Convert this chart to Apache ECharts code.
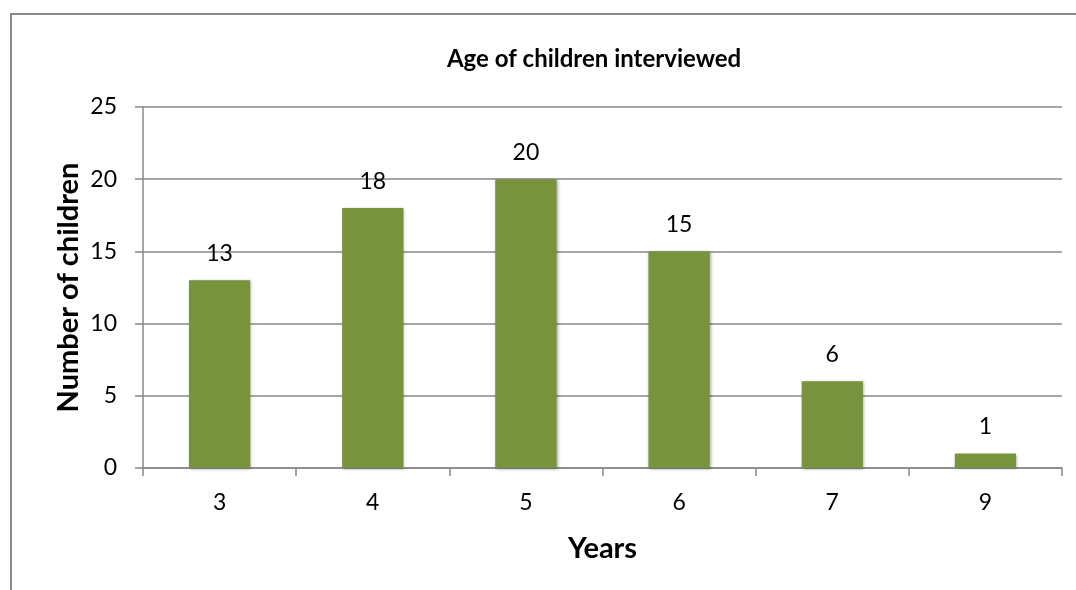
<!DOCTYPE html>
<html>
<head>
<meta charset="utf-8">
<script src="https://cdn.jsdelivr.net/npm/echarts@6/dist/echarts.min.js"></script>
<style>
    html, body { margin: 0; padding: 0; background: #fff; }
    #container { width: 1076px; height: 590px; }
</style>
</head>
<body>
<div id="container"></div>
<script type="text/javascript">
    // chart data
    var years = ['3', '4', '5', '6', '7', '9'];
    var children = [13, 18, 20, 15, 6, 1];
    var yTicks = [0, 5, 10, 15, 20, 25];

    var barColor = '#77933c';
    var lineColor = '#888888';
    var font = 'Lato';

    var dom = document.getElementById('container');
    var myChart = echarts.init(dom);

    var option = {
        backgroundColor: '#fff',
        animation: false,
        title: {
            text: 'Age of children interviewed',
            left: 589,
            textAlign: 'center',
            top: 42,
            textStyle: {
                fontFamily: font,
                fontWeight: 'bold',
                fontSize: 24,
                color: '#000'
            }
        },
        graphic: [{
            type: 'rect',
            shape: { x: 11, y: 14, width: 1200, height: 1000 },
            style: { fill: 'none', stroke: lineColor, lineWidth: 2 },
            silent: true
        }],
        grid: {
            left: 143,
            right: 14,
            top: 107,
            bottom: 122
        },
        xAxis: {
            type: 'category',
            data: years,
            name: 'Years',
            nameLocation: 'middle',
            nameGap: 66,
            nameTextStyle: {
                fontFamily: font,
                fontWeight: 'bold',
                fontSize: 29,
                color: '#000'
            },
            axisLine: { lineStyle: { color: lineColor, width: 1.5 } },
            axisTick: { show: true, length: 8, lineStyle: { color: lineColor, width: 1.5 } },
            axisLabel: {
                margin: 23,
                fontFamily: font,
                fontSize: 23,
                color: '#000'
            }
        },
        yAxis: {
            type: 'value',
            min: yTicks[0],
            max: yTicks[yTicks.length - 1],
            interval: 5,
            name: 'Number of children',
            nameLocation: 'middle',
            nameGap: 60,
            nameMoveOverlap: false,
            nameRotate: 90,
            nameTextStyle: {
                fontFamily: font,
                fontWeight: 'bold',
                fontSize: 29,
                color: '#000'
            },
            axisLine: { show: true, lineStyle: { color: lineColor, width: 1.5 } },
            axisTick: { show: true, length: 8, lineStyle: { color: lineColor, width: 1.5 } },
            splitLine: { lineStyle: { color: lineColor, width: 1.5 } },
            axisLabel: {
                margin: 26,
                fontFamily: font,
                fontSize: 23,
                color: '#000'
            }
        },
        series: [{
            type: 'bar',
            data: children,
            barWidth: '40%',
            itemStyle: {
                color: barColor,
                shadowColor: 'rgba(0,0,0,0.35)',
                shadowBlur: 3,
                shadowOffsetX: 1,
                shadowOffsetY: 1
            },
            label: {
                show: true,
                position: 'top',
                distance: 15,
                fontFamily: font,
                fontSize: 23,
                color: '#000'
            }
        }]
    };

    myChart.setOption(option);
</script>
</body>
</html>
